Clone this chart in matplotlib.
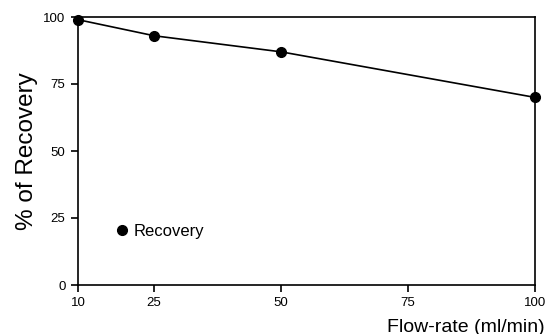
import matplotlib.pyplot as plt

flow_rate = [10, 25, 50, 100]
recovery = [99, 93, 87, 70]
x_ticks = [10, 25, 50, 75, 100]
y_ticks = [0, 25, 50, 75, 100]

plt.rcParams['font.family'] = ['Liberation Sans', 'DejaVu Sans']

fig = plt.figure(figsize=(5.48, 3.34), dpi=100)
ax = fig.add_axes([78 / 548, 49 / 334, 457 / 548, 268 / 334])

ax.plot(flow_rate, recovery, color='black', lw=1.2, marker='o', ms=7,
        clip_on=False, zorder=3)

ax.set_xlim(10, 100)
ax.set_ylim(0, 100)
ax.set_xticks(x_ticks)
ax.set_yticks(y_ticks)
ax.tick_params(direction='out', length=5, width=1.2, labelsize=9.5, pad=4)
for s in ax.spines.values():
    s.set_linewidth(1.2)

ax.set_ylabel('% of Recovery', fontsize=17.5, labelpad=4)
ax.set_xlabel('Flow-rate (ml/min)', fontsize=14)
ax.xaxis.set_label_coords(1.02, -0.125, transform=ax.transAxes)
ax.xaxis.label.set_ha('right')

# legend shows only the marker, like the original
handle = plt.Line2D([], [], ls='none', marker='o', color='black', ms=7)
ax.legend([handle], ['Recovery'], loc='center left', bbox_to_anchor=(0.045, 0.2),
          frameon=False, fontsize=12, handletextpad=0.2, handlelength=1.0)

fig.savefig('out.png', dpi=100)
